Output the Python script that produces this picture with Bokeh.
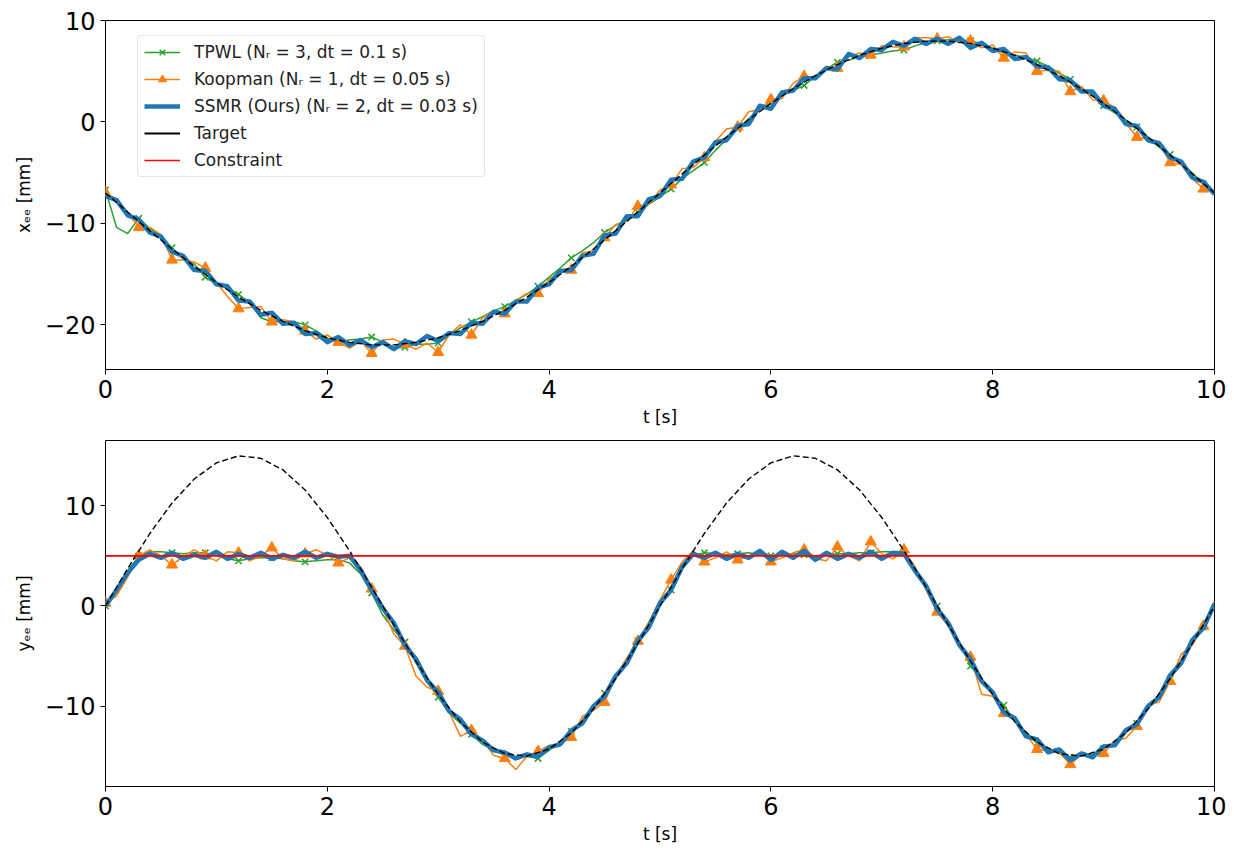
from bokeh.plotting import figure
from bokeh.models import Range1d, FixedTicker, Legend, LegendItem, Span
from bokeh.layouts import column
from bokeh.embed import file_html
from bokeh.resources import INLINE

# ---------------- data ----------------
# sampling grid of the simulated trajectories (0.1 s)
t = [round(0.1 * i, 1) for i in range(101)]
# sampling grid of the reference (target) curves (0.2 s)
t_ref = [round(0.2 * i, 1) for i in range(51)]

# top panel: x_ee [mm]
x_target = [-7.0, -8.88, -10.73, -12.52, -14.23, -15.82, -17.27, -18.56, -19.66, -20.57,
            -21.27, -21.73, -21.97, -21.97, -21.73, -21.27, -20.57, -19.66, -18.56, -17.27,
            -15.82, -14.23, -12.52, -10.73, -8.88, -7.0, -5.12, -3.27, -1.48, 0.23,
            1.82, 3.27, 4.56, 5.66, 6.57, 7.27, 7.73, 7.97, 7.97, 7.73,
            7.27, 6.57, 5.66, 4.56, 3.27, 1.82, 0.23, -1.48, -3.27, -5.12, -7.0]

x_tpwl = [-6.7, -10.4, -11.0, -9.5, -10.5, -11.3, -12.4, -13.5, -14.0, -15.3,
          -16.0, -16.4, -17.0, -17.8, -19.3, -19.7, -19.7, -19.7, -20.0, -20.6,
          -21.3, -21.7, -21.5, -21.4, -21.2, -21.7, -22.3, -22.2, -21.9, -21.9,
          -21.8, -21.0, -20.3, -19.7, -19.2, -18.6, -18.2, -17.6, -17.0, -16.2,
          -15.3, -14.4, -13.4, -12.7, -11.9, -10.9, -10.2, -9.6, -8.9, -8.1,
          -7.4, -6.6, -5.6, -4.8, -4.0, -2.8, -1.7, -0.7, 0.3, 1.3,
          2.0, 2.6, 3.1, 3.6, 4.5, 5.2, 5.9, 6.1, 6.4, 6.6,
          6.8, 7.0, 7.1, 7.5, 7.8, 8.0, 8.1, 8.1, 8.0, 7.7,
          7.3, 6.8, 6.6, 6.3, 6.0, 5.5, 4.8, 4.2, 3.4, 2.6,
          1.6, 0.9, 0.2, -0.5, -1.5, -2.5, -3.2, -4.0, -5.0, -6.1,
          -6.9]

x_koop = [-7.0, -7.6, -8.9, -10.4, -10.4, -11.1, -13.6, -13.6, -13.8, -14.4,
          -15.8, -17.2, -18.4, -18.3, -18.2, -19.7, -19.5, -19.7, -20.6, -21.4,
          -21.0, -21.7, -22.3, -21.6, -22.8, -21.5, -21.4, -21.9, -22.4, -21.8,
          -22.7, -20.95, -20.0, -21.0, -19.3, -18.6, -18.9, -17.6, -16.9, -16.9,
          -15.5, -14.8, -14.6, -12.9, -12.7, -11.4, -10.1, -9.8, -8.3, -8.1,
          -6.7, -6.2, -4.6, -4.5, -3.5, -1.9, -0.7, -0.5, 1.0, 1.2,
          2.2, 2.3, 3.8, 4.5, 4.4, 5.5, 5.3, 6.4, 6.8, 6.6,
          7.5, 7.4, 7.4, 8.3, 8.3, 8.2, 8.4, 7.8, 8.0, 7.3,
          7.6, 6.3, 6.9, 6.8, 5.0, 5.1, 5.0, 3.0, 3.5, 2.2,
          2.1, 1.4, -0.1, -1.5, -1.7, -2.0, -4.0, -4.2, -5.6, -6.6,
          -6.7]

x_ssmr = [-7.3, -7.7, -9.2, -9.6, -10.9, -11.3, -12.8, -13.2, -14.6, -14.7,
          -16.0, -16.2, -17.6, -17.7, -19.0, -18.8, -19.9, -19.8, -20.9, -20.8,
          -21.7, -21.2, -22.0, -21.5, -22.2, -21.7, -22.4, -21.6, -21.9, -21.1,
          -21.6, -20.8, -20.9, -19.8, -19.9, -18.7, -18.9, -17.7, -17.7, -16.3,
          -16.0, -14.7, -14.6, -13.2, -13.0, -11.2, -11.0, -9.3, -9.3, -7.6,
          -7.3, -5.7, -5.6, -3.9, -3.5, -2.0, -1.8, -0.4, -0.2, 1.6,
          1.3, 2.9, 3.1, 4.3, 4.3, 5.3, 5.2, 6.7, 6.3, 7.2,
          7.1, 7.9, 7.5, 8.2, 7.7, 8.2, 7.7, 8.3, 7.3, 7.8,
          7.0, 7.2, 6.2, 6.4, 5.5, 5.4, 4.2, 4.1, 3.0, 3.0,
          1.6, 1.3, -0.2, -0.4, -1.8, -2.1, -3.5, -3.9, -5.5, -5.9,
          -7.1]

# bottom panel: y_ee [mm]
y_target = [0.0, 3.73, 7.23, 10.27, 12.66, 14.27, 14.97, 14.73, 13.57, 11.56,
            8.82, 5.52, 1.88, -1.88, -5.52, -8.82, -11.56, -13.57, -14.73, -14.97,
            -14.27, -12.66, -10.27, -7.23, -3.73, 0.0, 3.73, 7.23, 10.27, 12.66,
            14.27, 14.97, 14.73, 13.57, 11.56, 8.82, 5.52, 1.88, -1.88, -5.52,
            -8.82, -11.56, -13.57, -14.73, -14.97, -14.27, -12.66, -10.27, -7.23, -3.73, 0.0]

y_constraint = 5.0

y_tpwl = [0.0, 1.4, 3.5, 5.0, 5.4, 5.4, 5.3, 5.2, 5.3, 5.3,
          5.0, 4.7, 4.5, 4.7, 4.8, 4.8, 4.7, 4.5, 4.4, 4.5,
          4.6, 4.6, 4.3, 3.2, 1.3, -0.9, -2.4, -3.6, -5.7, -7.6,
          -9.1, -10.7, -11.7, -12.8, -13.8, -14.4, -14.9, -15.1, -15.0, -15.2,
          -14.4, -13.5, -12.5, -11.4, -10.0, -8.7, -7.0, -5.3, -3.5, -1.6,
          0.2, 1.6, 3.7, 5.0, 5.3, 5.2, 5.1, 5.2, 5.3, 5.1,
          5.0, 5.1, 5.2, 5.1, 5.0, 5.1, 5.2, 5.2, 5.3, 5.3,
          5.4, 5.4, 5.3, 3.6, 1.7, 0.0, -1.8, -3.6, -6.0, -7.4,
          -8.8, -9.9, -11.5, -12.6, -13.7, -14.3, -14.7, -15.1, -14.9, -14.8,
          -14.2, -13.6, -12.6, -11.7, -10.2, -8.9, -7.3, -5.5, -3.8, -2.1,
          -0.1]

y_koop = [0.3, 1.0, 2.9, 5.0, 5.6, 5.0, 4.1, 4.9, 5.6, 5.0,
          4.5, 5.4, 5.3, 4.5, 5.0, 5.8, 4.7, 4.5, 5.2, 5.6,
          5.1, 4.3, 4.8, 3.9, 1.7, -0.3, -2.8, -4.0, -7.0, -8.1,
          -8.5, -10.6, -13.0, -12.4, -13.4, -14.9, -15.2, -16.3, -15.0, -14.5,
          -13.9, -13.8, -13.1, -11.0, -10.4, -9.6, -7.0, -5.2, -3.5, -1.6,
          0.6, 2.6, 4.4, 5.5, 4.4, 4.8, 5.4, 4.6, 4.9, 5.5,
          4.4, 4.8, 5.3, 5.6, 4.7, 4.5, 5.9, 5.0, 4.5, 6.4,
          5.2, 4.7, 5.6, 3.9, 1.6, -0.6, -2.0, -3.8, -5.1, -8.8,
          -9.0, -10.7, -11.4, -12.8, -14.3, -14.4, -14.6, -15.8, -14.8, -14.9,
          -14.7, -13.4, -13.2, -12.0, -9.8, -9.6, -7.5, -4.8, -3.9, -2.0,
          0.5]

y_ssmr = [0.0, 1.6, 3.3, 4.6, 5.2, 4.8, 5.3, 4.7, 5.1, 4.8,
          5.4, 4.7, 5.2, 4.8, 5.3, 4.7, 5.1, 4.8, 5.4, 4.8,
          5.2, 4.9, 5.0, 3.6, 1.6, -0.2, -1.7, -3.9, -5.3, -7.4,
          -8.6, -10.5, -11.3, -12.8, -13.4, -14.4, -14.6, -15.2, -14.8, -15.0,
          -14.1, -13.8, -12.4, -11.7, -10.0, -9.0, -7.0, -5.7, -3.5, -2.1,
          0.3, 1.6, 3.9, 5.2, 4.8, 5.3, 4.7, 5.2, 4.8, 5.5,
          4.6, 5.4, 4.8, 5.5, 4.6, 5.3, 4.7, 5.2, 4.8, 5.4,
          4.7, 5.3, 5.2, 3.5, 2.0, -0.3, -1.7, -3.9, -5.3, -7.5,
          -8.6, -10.6, -11.2, -13.0, -13.3, -14.6, -14.3, -15.4, -14.7, -15.1,
          -14.0, -13.9, -12.4, -11.8, -10.0, -9.1, -6.9, -5.7, -3.4, -2.2,
          0.2]

x_ticks = [0, 2, 4, 6, 8, 10]
top_yticks = [-20, -10, 0, 10]
bot_yticks = [-10, 0, 10]

labels = ["TPWL (N\u1d63 = 3, dt = 0.1 s)",
          "Koopman (N\u1d63 = 1, dt = 0.05 s)",
          "SSMR (Ours) (N\u1d63 = 2, dt = 0.03 s)",
          "Target",
          "Constraint"]

# ---------------- style ----------------
FONT = "DejaVu Sans"
C_TPWL = "#2ca02c"
C_KOOP = "#ff7f0e"
C_SSMR = "#1f77b4"
MARK_EVERY = 3
NAN = float("nan")


def minus(v):
    return ("\u2212" + str(abs(v))) if v < 0 else str(v)


def make_fig(height, yr, yticks, ylabel, btop, bbot):
    p = figure(width=1226, height=height, x_range=Range1d(0, 10), y_range=Range1d(*yr),
               output_backend="svg", toolbar_location=None,
               min_border_left=105, min_border_right=12,
               min_border_top=btop, min_border_bottom=bbot)
    p.grid.visible = False
    p.outline_line_color = "black"
    p.outline_line_width = 1
    p.background_fill_color = "white"
    p.border_fill_color = "white"
    p.xaxis.ticker = FixedTicker(ticks=x_ticks)
    p.yaxis.ticker = FixedTicker(ticks=yticks)
    p.xaxis.major_label_overrides = {v: minus(v) for v in x_ticks}
    p.yaxis.major_label_overrides = {v: minus(v) for v in yticks}
    p.xaxis.axis_label = "t [s]"
    p.yaxis.axis_label = ylabel
    for ax in (p.xaxis[0], p.yaxis[0]):
        ax.axis_line_color = None
        ax.major_tick_line_color = "black"
        ax.major_tick_line_width = 1
        ax.major_tick_out = 5
        ax.major_tick_in = 0
        ax.minor_tick_line_color = None
        ax.major_label_text_font = FONT
        ax.major_label_text_font_size = "24px"
        ax.major_label_text_color = "black"
        ax.major_label_standoff = 5
        ax.axis_label_text_font = FONT
        ax.axis_label_text_font_size = "17px"
        ax.axis_label_text_font_style = "normal"
        ax.axis_label_text_color = "black"
    p.xaxis.axis_label_standoff = 6
    p.yaxis.axis_label_standoff = 8
    return p


def draw_series(p, tpwl, koop, ssmr, tgt):
    r = {}
    r["tpwl_l"] = p.line(t, tpwl, line_color=C_TPWL, line_width=1.5)
    r["tpwl_m"] = p.scatter(t[::MARK_EVERY], tpwl[::MARK_EVERY], marker="x", size=9,
                            line_color=C_TPWL, line_width=1.5)
    r["koop_l"] = p.line(t, koop, line_color=C_KOOP, line_width=1.5)
    r["koop_m"] = p.scatter(t[::MARK_EVERY], koop[::MARK_EVERY], marker="triangle", size=11,
                            fill_color=C_KOOP, line_color=C_KOOP)
    r["ssmr"] = p.line(t, ssmr, line_color=C_SSMR, line_width=4.5, line_join="round")
    r["target"] = p.line(t_ref, tgt, line_color="black", line_width=1.4, line_dash="6 3")
    return r


# ---------------- top panel ----------------
p1 = make_fig(432, (-24.4, 10.0), top_yticks, "x\u2091\u2091 [mm]", 20, 63)
r1 = draw_series(p1, x_tpwl, x_koop, x_ssmr, x_target)
# legend-only glyphs (nothing visible in the plot area)
leg_target = p1.line([t[0], t[-1]], [NAN, NAN], line_color="black", line_width=2)
leg_constr = p1.line([t[0], t[-1]], [NAN, NAN], line_color="red", line_width=1.5)

legend = Legend(items=[
    LegendItem(label=labels[0], renderers=[r1["tpwl_l"], r1["tpwl_m"]]),
    LegendItem(label=labels[1], renderers=[r1["koop_l"], r1["koop_m"]]),
    LegendItem(label=labels[2], renderers=[r1["ssmr"]]),
    LegendItem(label=labels[3], renderers=[leg_target]),
    LegendItem(label=labels[4], renderers=[leg_constr]),
], location=(32, 192))
legend.label_text_font = FONT
legend.label_text_font_size = "17px"
legend.label_text_color = "#222222"
legend.label_height = 20
legend.glyph_height = 20
legend.glyph_width = 36
legend.label_standoff = 14
legend.spacing = 7
legend.padding = 6
legend.margin = 0
legend.border_line_color = "#cccccc"
legend.border_line_width = 1
legend.background_fill_color = "white"
legend.background_fill_alpha = 0.85
try:
    legend.border_radius = 4
except Exception:
    pass
p1.add_layout(legend)

# ---------------- bottom panel ----------------
p2 = make_fig(414, (-18.0, 16.5), bot_yticks, "y\u2091\u2091 [mm]", 8, 57)
draw_series(p2, y_tpwl, y_koop, y_ssmr, y_target)
p2.add_layout(Span(location=y_constraint, dimension="width", line_color="red", line_width=1.8))

layout = column(p1, p2, spacing=0)
open("out.html", "w").write(file_html(layout, INLINE))
